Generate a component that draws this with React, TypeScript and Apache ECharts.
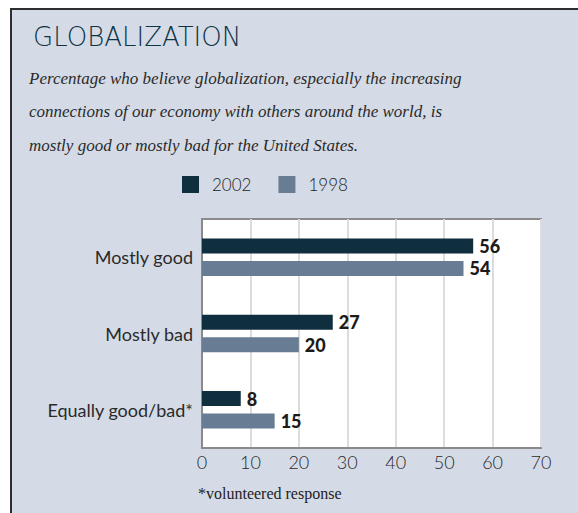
import React, { useEffect, useRef } from "react";
import * as echarts from "echarts";

const categories = ["Mostly good", "Mostly bad", "Equally good/bad*"];
const seriesNames = ["2002", "1998"];
const values2002 = [56, 27, 8];
const values1998 = [54, 20, 15];
const xTicks = [0, 70, 10];

const titleText = "GLOBALIZATION";
const subtitleLines = [
  "Percentage who believe globalization, especially the increasing",
  "connections of our economy with others around the world, is",
  "mostly good or mostly bad for the United States.",
];
const footnoteText = "*volunteered response";

const COLORS = ["#0f2f3e", "#687d93"];

export default function App() {
  const ref = useRef<HTMLDivElement>(null);
  useEffect(() => {
    if (!ref.current) return;
    const chart = echarts.init(ref.current, null, { renderer: "svg" });
    const labelStyle = {
      show: true,
      position: "right",
      distance: 6,
      fontFamily: "Lato",
      fontWeight: 900,
      fontSize: 18,
      color: "#1d1a17",
    };
    chart.setOption({
      animation: false,
      backgroundColor: "#ffffff",
      graphic: [
        {
          type: "rect",
          z: -10,
          silent: true,
          shape: { x: 11, y: 9, width: 600, height: 600 },
          style: { fill: "#d4dbe6", stroke: "#2e2e2e", lineWidth: 2 },
        },
        ...subtitleLines.map((line, i) => ({
          type: "text",
          x: 29,
          y: 78 + i * 33.5,
          style: {
            text: line,
            fontFamily: "Liberation Serif",
            fontStyle: "italic",
            fontSize: 17,
            fill: "#2a2a2a",
            verticalAlign: "middle",
            align: "left",
          },
        })),
        {
          type: "text",
          left: 198,
          top: 485,
          style: {
            text: footnoteText,
            fontFamily: "Liberation Serif",
            fontSize: 16,
            fill: "#222222",
          },
        },
      ],
      title: {
        text: titleText,
        left: 28,
        top: 19,
        textStyle: {
          fontFamily: "DejaVu Sans",
          fontWeight: 200,
          fontSize: 26,
          color: "#0e3344",
        },
      },
      legend: {
        left: 177,
        top: 171,
        itemWidth: 17,
        itemHeight: 17,
        itemGap: 27,
        icon: "rect",
        data: seriesNames,
        textStyle: {
          fontFamily: "Lato",
          fontWeight: 300,
          fontSize: 17,
          color: "#222222",
          padding: [0, 0, 0, 8],
        },
      },
      grid: {
        left: 202,
        top: 219,
        right: 37,
        bottom: 65,
        show: true,
        backgroundColor: "#ffffff",
        borderColor: "#8a8a8a",
        borderWidth: 2,
        containLabel: false,
      },
      xAxis: {
        type: "value",
        min: xTicks[0],
        max: xTicks[1],
        interval: xTicks[2],
        axisLine: { show: true, lineStyle: { color: "#8a8a8a", width: 2 } },
        axisTick: { show: false },
        splitLine: { show: true, lineStyle: { color: "#dcdcdc", width: 2 } },
        axisLabel: {
          margin: 5,
          fontFamily: "Lato",
          fontWeight: 300,
          fontSize: 18,
          color: "#2a2a2a",
        },
      },
      yAxis: {
        type: "category",
        inverse: true,
        data: categories,
        axisLine: { show: true, lineStyle: { color: "#8a8a8a", width: 2 } },
        axisTick: { show: false },
        axisLabel: {
          margin: 9,
          fontFamily: "Lato",
          fontSize: 18,
          color: "#2a2a2a",
        },
      },
      series: [
        {
          name: seriesNames[0],
          type: "bar",
          data: values2002,
          barWidth: 15,
          barGap: "50%",
          itemStyle: { color: COLORS[0] },
          label: labelStyle,
        },
        {
          name: seriesNames[1],
          type: "bar",
          data: values1998,
          barWidth: 15,
          barGap: "50%",
          itemStyle: { color: COLORS[1] },
          label: labelStyle,
        },
      ],
    });
    return () => chart.dispose();
  }, []);
  return (
    <div
      ref={ref}
      style={{ position: "fixed", left: 0, top: 0, width: 578, height: 513 }}
    />
  );
}
